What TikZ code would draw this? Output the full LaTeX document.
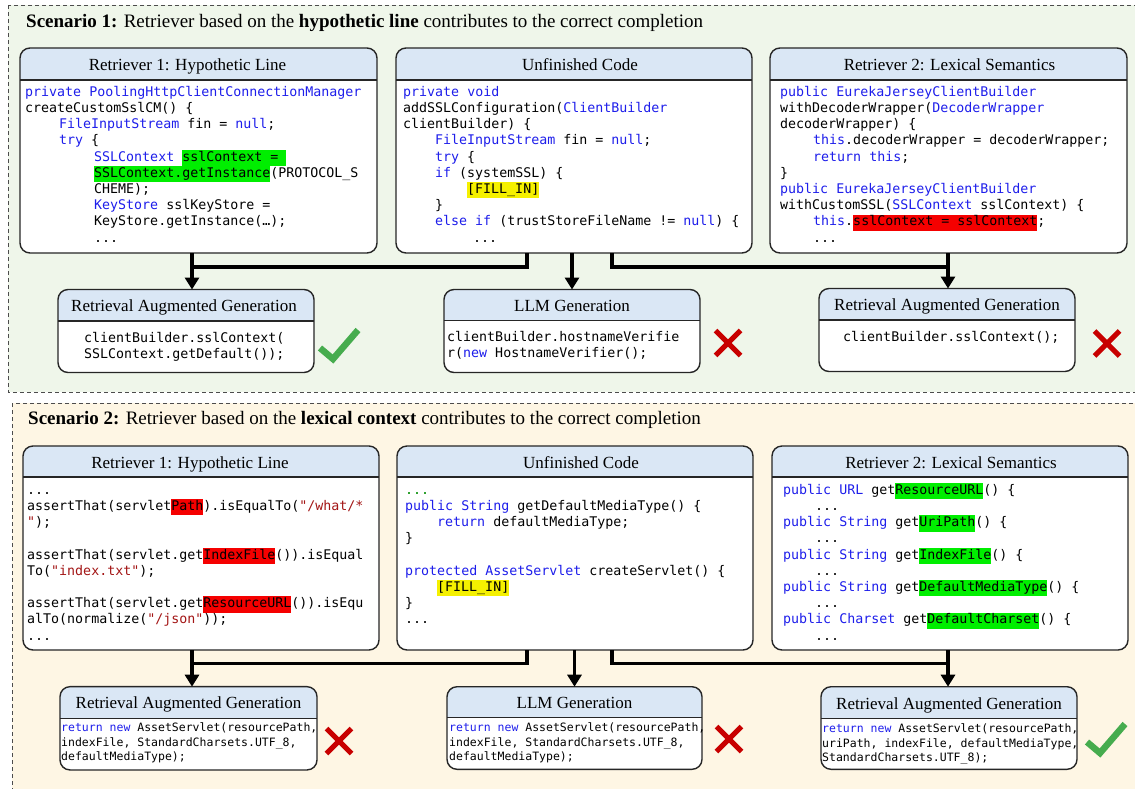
\documentclass[tikz,border=0pt]{standalone}
\usepackage{fontspec}
\setmainfont{Liberation Serif}
\setmonofont{DejaVu Sans Mono}
\usepackage{xcolor}
\usetikzlibrary{arrows.meta}

\definecolor{kwblue}{RGB}{30,30,235}
\definecolor{strred}{RGB}{163,21,21}
\definecolor{dotgreen}{RGB}{0,140,0}
\definecolor{hlgreen}{RGB}{0,238,0}
\definecolor{hlred}{RGB}{245,0,0}
\definecolor{hlyellow}{RGB}{245,240,0}
\definecolor{hdrblue}{RGB}{218,231,245}
\definecolor{sonebg}{RGB}{239,246,234}
\definecolor{stwobg}{RGB}{254,246,228}
\definecolor{okgreen}{RGB}{70,172,78}
\definecolor{badred}{RGB}{200,0,0}

\newcommand{\codefont}{\fontsize{13.3}{16.2}\selectfont\ttfamily}
\newcommand{\smallcode}{\fontsize{11.5}{14.5}\selectfont\ttfamily}
\newcommand{\hdrfont}{\fontsize{17}{20}\selectfont}
\newcommand{\kwd}[1]{\textcolor{kwblue}{#1}}
\newcommand{\strg}[1]{\textcolor{strred}{#1}}
\newcommand{\hlgrn}[1]{{\fboxsep=0pt\colorbox{hlgreen}{\strut#1}}}
\newcommand{\hlr}[1]{{\fboxsep=0pt\colorbox{hlred}{\strut#1}}}
\newcommand{\hlyel}[1]{{\fboxsep=0pt\colorbox{hlyellow}{\strut#1}}}
\newcommand{\gap}[1]{\hspace*{#1pt}}

% name, centre, width, height, header height, header shift, header text
\newcommand{\panel}[7]{%
  \node[panelbg, minimum width=#3pt, minimum height=#4pt] (#1) at (#2) {};
  \begin{scope}
    \clip[rounded corners=10pt] (#1.south west) rectangle (#1.north east);
    \fill[hdrblue] (#1.north west) rectangle ([yshift=-#5pt]#1.north east);
  \end{scope}
  \draw[panelline] ([yshift=-#5pt]#1.north west) -- ([yshift=-#5pt]#1.north east);
  \draw[panelline, rounded corners=10pt] (#1.south west) rectangle (#1.north east);
  \node[hdrtext] (#1-t) at ([xshift=#6pt, yshift={-(#5/2+6.5)*1pt}]#1.north) {#7};
}

\begin{document}
\begin{tikzpicture}[x=1pt, y=-1pt]

    \tikzset{
      scen/.style={draw=black!70, line width=0.8pt, dash pattern=on 4pt off 3pt},
      panelbg/.style={fill=white, rounded corners=10pt, inner sep=0pt, outer sep=0pt},
      panelline/.style={draw=black!85, line width=1.4pt},
      hdrtext/.style={anchor=base, inner sep=0pt, font=\hdrfont},
      titletext/.style={anchor=base west, inner sep=0pt, font=\fontsize{19}{23}\selectfont},
      code/.style={anchor=north west, inner sep=0pt, align=left, font=\codefont},
      smallcodetext/.style={anchor=north west, inner sep=0pt, align=left, font=\smallcode},
      link/.style={line width=3.5pt},
      flow/.style={line width=3.5pt, -{Triangle[width=14pt,length=12pt]}},
      okmark/.pic={\draw[okgreen, line width=6.5pt] (-19,4) -- (-6,15) -- (19,-14);},
      badmark/.pic={\draw[badred, line width=5pt] (-12.5,-12.5) -- (12.5,12.5) (-12.5,12.5) -- (12.5,-12.5);},
    }
    \useasboundingbox (0,0) rectangle (1135,788);

    % scenario backgrounds
    \draw[scen, fill=sonebg] (8,5) rectangle (1145,392);
    \draw[scen, fill=stwobg] (12,403) rectangle (1145,800);
    \node[titletext] (s1title) at (26,27) {\textbf{Scenario 1:} Retriever based on the \textbf{hypothetic line} contributes to the correct completion};
    \node[titletext] (s2title) at (28,424) {\textbf{Scenario 2:} Retriever based on the \textbf{lexical context} contributes to the correct completion};

    % scenario 1
    \panel{s1ret1}{198.5,150.5}{357}{205}{32}{-11}{Retriever 1: Hypothetic Line}
    \panel{s1unf}{574,150.5}{356}{205}{32}{6}{Unfinished Code}
    \panel{s1ret2}{948.5,150.5}{357}{205}{32}{1}{Retriever 2: Lexical Semantics}
    \panel{s1rag1}{186,331}{256}{83}{31.5}{-2}{Retrieval Augmented Generation}
    \panel{s1llm}{572,331}{256}{83}{31}{0}{LLM Generation}
    \panel{s1rag2}{947,330}{256}{83}{31.5}{0}{Retrieval Augmented Generation}

    \node[code] (s1ret1code) at (25,84.7) {\strut\kwd{private PoolingHttpClientConnectionManager}\\
      createCustomSslCM() \{\\
      \gap{34}\kwd{FileInputStream} fin = \kwd{null};\\
      \gap{34}\kwd{try} \{\\
      \gap{69}\kwd{SSLContext} \hlgrn{sslContext = }\\
      \gap{69}\hlgrn{SSLContext.getInstance}(PROTOCOL\_S\\
      \gap{69}CHEME);\\
      \gap{69}\kwd{KeyStore} sslKeyStore =\\
      \gap{69}KeyStore.getInstance(…);\\
      \gap{69}...};
    \node[code] (s1unfcode) at (403,84.7) {\strut\kwd{private void}\\
      addSSLConfiguration(\kwd{ClientBuilder}\\
      clientBuilder) \{\\
      \gap{32}\kwd{FileInputStream} fin = \kwd{null};\\
      \gap{32}\kwd{try} \{\\
      \gap{32}\kwd{if} (systemSSL) \{\\
      \gap{64}\hlyel{[FILL\_IN]}\\
      \gap{32}\}\\
      \gap{32}\kwd{else if} (trustStoreFileName != \kwd{null}) \{\\
      \gap{70}...};
    \node[code] (s1ret2code) at (780,84.7) {\strut\kwd{public EurekaJerseyClientBuilder}\\
      withDecoderWrapper(\kwd{DecoderWrapper}\\
      decoderWrapper) \{\\
      \gap{33}\kwd{this}.decoderWrapper = decoderWrapper;\\
      \gap{33}\kwd{return this};\\
      \}\\
      \kwd{public EurekaJerseyClientBuilder}\\
      withCustomSSL(\kwd{SSLContext} sslContext) \{\\
      \gap{33}\kwd{this}.\hlr{sslContext = sslContext};\\
      \gap{33}...};
    \node[code] (s1rag1code) at (84,330.7) {\strut clientBuilder.sslContext(\\SSLContext.getDefault());};
    \node[code] (s1llmcode) at (447,329.7) {\strut clientBuilder.hostnameVerifie\\r(\kwd{new} HostnameVerifier();};
    \node[code] (s1rag2code) at (843,329.7) {\strut clientBuilder.sslContext();};

    \coordinate (s1j1) at (192,267);
    \coordinate (s1l) at (527,267);
    \coordinate (s1r) at (612,267);
    \coordinate (s1j2) at (948,267);
    \draw[flow] (s1j1 |- s1ret1.south) -- (s1j1 |- s1rag1.north);
    \draw[link] (s1unf.south -| s1l) -- (s1l) -- (s1j1);
    \draw[flow] (s1unf.south -| s1llm.north) -- (s1llm.north);
    \draw[link] (s1unf.south -| s1r) -- (s1r) -- (s1j2);
    \draw[flow] (s1j2 |- s1ret2.south) -- (s1j2 |- s1rag2.north);

    \pic at (339,344) {okmark};
    \pic at (728,343) {badmark};
    \pic at (1107,343.5) {badmark};

    % scenario 2
    \panel{s2ret1}{201,548}{356}{204}{31}{-11}{Retriever 1: Hypothetic Line}
    \panel{s2unf}{575,548}{356}{204}{31}{6}{Unfinished Code}
    \panel{s2ret2}{950,548}{356}{204}{31}{1}{Retriever 2: Lexical Semantics}
    \panel{s2rag1}{188.5,728.3}{257}{83.3}{31.6}{0}{Retrieval Augmented Generation}
    \panel{s2llm}{574.5,728}{255}{82.6}{30.6}{0}{LLM Generation}
    \panel{s2rag2}{949,728}{256}{82.6}{31.6}{0}{Retrieval Augmented Generation}

    \node[code] (s2ret1code) at (27,482.7) {\strut...\\
      assertThat(servlet\hlr{Path}).isEqualTo(\strg{"/what/*}\\
      \strg{"});\\
      \strut\\
      assertThat(servlet.get\hlr{IndexFile}()).isEqual\\
      To(\strg{"index.txt"});\\
      \strut\\
      assertThat(servlet.get\hlr{ResourceURL}()).isEqu\\
      alTo(normalize(\strg{"/json"}));\\
      ...};
    \node[code] (s2unfcode) at (405,482.7) {\strut\textcolor{dotgreen}{...}\\
      \kwd{public String} getDefaultMediaType() \{\\
      \gap{32}\kwd{return} defaultMediaType;\\
      \}\\
      \strut\\
      \kwd{protected AssetServlet} createServlet() \{\\
      \gap{32}\hlyel{[FILL\_IN]}\\
      \}\\
      ...};
    \node[code] (s2ret2code) at (783,482.7) {\strut\kwd{public URL} get\hlgrn{ResourceURL}() \{\\
      \gap{32}...\\
      \kwd{public String} get\hlgrn{UriPath}() \{\\
      \gap{32}...\\
      \kwd{public String} get\hlgrn{IndexFile}() \{\\
      \gap{32}...\\
      \kwd{public String} get\hlgrn{DefaultMediaType}() \{\\
      \gap{32}...\\
      \kwd{public Charset} get\hlgrn{DefaultCharset}() \{\\
      \gap{32}...};
    \node[smallcodetext] (s2rag1code) at (61,721.4) {\strut\kwd{return new} AssetServlet(resourcePath,\\
      indexFile, StandardCharsets.UTF\_8,\\
      defaultMediaType);};
    \node[smallcodetext] (s2llmcode) at (449,721.4) {\strut\kwd{return new} AssetServlet(resourcePath,\\
      indexFile, StandardCharsets.UTF\_8,\\
      defaultMediaType);};
    \node[smallcodetext] (s2rag2code) at (822,722.6) {\strut\kwd{return new} AssetServlet(resourcePath,\\
      uriPath, indexFile, defaultMediaType,\\
      StandardCharsets.UTF\_8);};

    \coordinate (s2j1) at (192,663.5);
    \coordinate (s2l) at (527,663.5);
    \coordinate (s2r) at (612,663.5);
    \coordinate (s2j2) at (948,663.5);
    \draw[flow] (s2j1 |- s2ret1.south) -- (s2j1 |- s2rag1.north);
    \draw[link] (s2unf.south -| s2l) -- (s2l) -- (s2j1);
    \draw[flow] (s2unf.south -| s2llm.north) -- (s2llm.north);
    \draw[link] (s2unf.south -| s2r) -- (s2r) -- (s2j2);
    \draw[flow] (s2j2 |- s2ret2.south) -- (s2j2 |- s2rag2.north);

    \pic at (339,741) {badmark};
    \pic at (729,739) {badmark};
    \pic at (1106,738) {okmark};

\end{tikzpicture}
\end{document}
